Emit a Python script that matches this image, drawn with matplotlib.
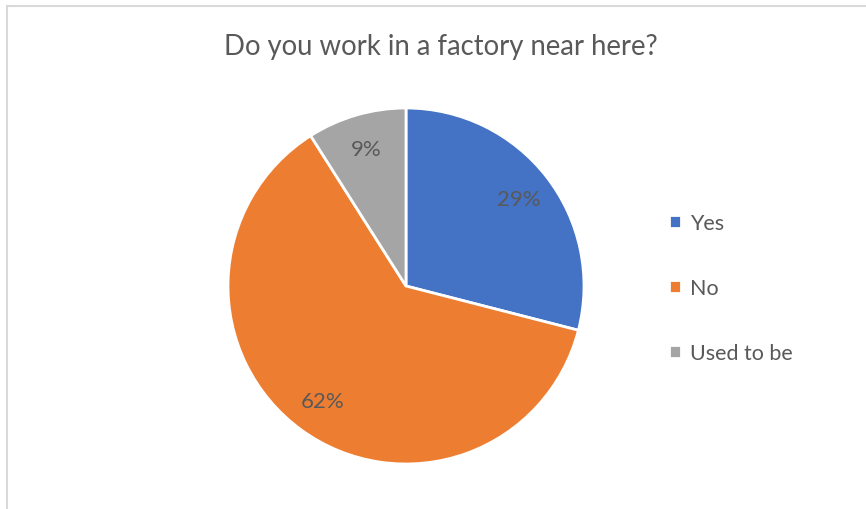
import matplotlib.pyplot as plt
from matplotlib.lines import Line2D

labels = ['Yes', 'No', 'Used to be']
values = [29, 62, 9]
colors = ['#4472C4', '#ED7D31', '#A5A5A5']

plt.rcParams['font.family'] = ['Lato', 'DejaVu Sans']
text_color = '#595959'

fig = plt.figure(figsize=(8.66, 5.10), dpi=100)

# chart frame (only top and left edges show)
fig.add_artist(Line2D([7 / 866, 1], [1 - 7 / 510, 1 - 7 / 510], color='#d9d9d9', lw=1.5))
fig.add_artist(Line2D([7 / 866, 7 / 866], [0, 1 - 7 / 510], color='#d9d9d9', lw=1.5))

fig.text(441 / 866, 1 - 47 / 510, 'Do you work in a factory near here?',
         ha='center', va='center', fontsize=19.8, color=text_color)

ax = fig.add_axes([228 / 866, 45 / 510, 356 / 866, 356 / 510])
wedges, texts, autotexts = ax.pie(values, colors=colors, startangle=90, counterclock=False,
                                  autopct='%.0f%%', pctdistance=0.8,
                                  wedgeprops=dict(edgecolor='white', linewidth=2),
                                  textprops=dict(fontsize=16, color=text_color))
ax.set_xlim(-1, 1)
ax.set_ylim(-1, 1)
ax.set_aspect('equal')

fig.legend(wedges, labels, loc='center left', bbox_to_anchor=(650 / 866, 1 - 289 / 510),
           frameon=False, handlelength=0.55, handleheight=0.55, handletextpad=0.4,
           labelspacing=2.1, fontsize=15.5, labelcolor=text_color)

fig.savefig('out.png', dpi=100)
